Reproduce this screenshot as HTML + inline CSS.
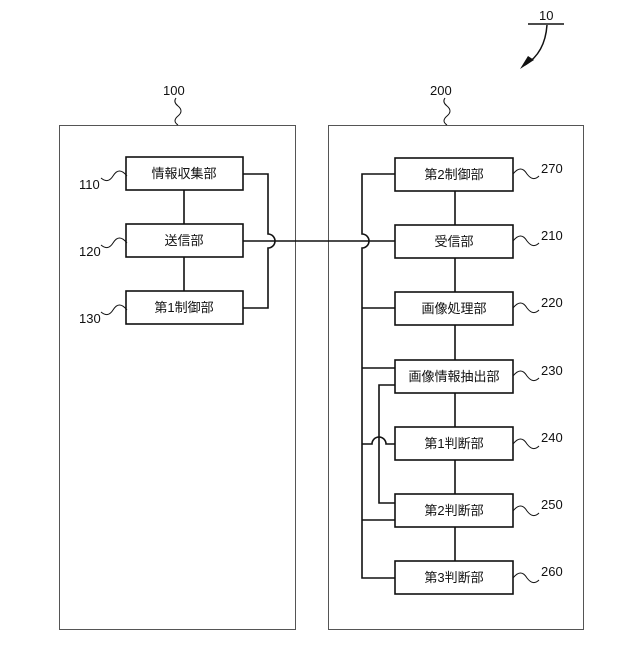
<!DOCTYPE html>
<html><head><meta charset="utf-8"><style>
html,body{margin:0;padding:0;background:#fff;}
text{font-family:"Liberation Sans","Noto Sans CJK JP",sans-serif;font-size:13px;fill:#111;}
</style></head><body>
<svg width="640" height="640" viewBox="0 0 640 640" xmlns="http://www.w3.org/2000/svg">
<g fill="none" stroke="#555" stroke-width="1">
<rect x="59.5" y="125.5" width="236" height="504"/>
<rect x="328.5" y="125.5" width="255" height="504"/>
</g>
<g fill="none" stroke="#111" stroke-width="1">
<path d="M178 125 q-6 -4 0 -9 q6 -5 0 -10 q-5 -4 -2 -8"/>
<path d="M447 125 q-6 -4 0 -9 q6 -5 0 -10 q-5 -4 -2 -8"/>
<!-- left leaders -->
<path d="M127 176 q-8 -10 -14 0 q-5 8 -12 2"/>
<path d="M127 243 q-8 -10 -14 0 q-5 8 -12 2"/>
<path d="M127 310 q-8 -10 -14 0 q-5 8 -12 2"/>
<!-- right leaders -->
<path d="M513 174 q8 -10 14 0 q6 8 12 2"/>
<path d="M513 241 q8 -10 14 0 q6 8 12 2"/>
<path d="M513 308 q8 -10 14 0 q6 8 12 2"/>
<path d="M513 376 q8 -10 14 0 q6 8 12 2"/>
<path d="M513 444 q8 -10 14 0 q6 8 12 2"/>
<path d="M513 511 q8 -10 14 0 q6 8 12 2"/>
<path d="M513 578 q8 -10 14 0 q6 8 12 2"/>
<!-- 10 -->
<line x1="528" y1="24" x2="564" y2="24" stroke-width="1.5"/>
<path d="M547 25 q-2 28 -22 40" stroke-width="1.5"/>
</g>
<polygon points="520,69 534,60 528,56" fill="#111"/>
<g fill="none" stroke="#111" stroke-width="1.6">
<rect x="126" y="157" width="117" height="33"/>
<rect x="126" y="224" width="117" height="33"/>
<rect x="126" y="291" width="117" height="33"/>
<line x1="184" y1="190" x2="184" y2="224"/>
<line x1="184" y1="257" x2="184" y2="291"/>
<path d="M243 174 H268 V234 a7 7 0 0 1 0 14 V308 H243"/>
<path d="M243 241 H362 M362 241 H395"/>
<rect x="395" y="158" width="118" height="33"/>
<rect x="395" y="225" width="118" height="33"/>
<rect x="395" y="292" width="118" height="33"/>
<rect x="395" y="360" width="118" height="33"/>
<rect x="395" y="427" width="118" height="33"/>
<rect x="395" y="494" width="118" height="33"/>
<rect x="395" y="561" width="118" height="33"/>
<line x1="455" y1="191" x2="455" y2="225"/>
<line x1="455" y1="258" x2="455" y2="292"/>
<line x1="455" y1="325" x2="455" y2="360"/>
<line x1="455" y1="393" x2="455" y2="427"/>
<line x1="455" y1="460" x2="455" y2="494"/>
<line x1="455" y1="527" x2="455" y2="561"/>
<path d="M395 174 H362 V234 a7 7 0 0 1 0 14 V578 H395"/>
<path d="M362 308 H395 M362 368 H395 M362 520 H395"/>
<path d="M395 385 H379 V503 H395"/>
<path d="M362 444 H372 a7 7 0 0 1 14 0 H395"/>
</g>
<text x="163" y="95">100</text>
<text x="430" y="95">200</text>
<text x="539" y="20">10</text>
<text x="79" y="189">110</text>
<text x="79" y="256">120</text>
<text x="79" y="323">130</text>
<text x="541" y="173">270</text>
<text x="541" y="240">210</text>
<text x="541" y="307">220</text>
<text x="541" y="375">230</text>
<text x="541" y="442">240</text>
<text x="541" y="509">250</text>
<text x="541" y="576">260</text>
<g text-anchor="middle">
<text x="184" y="178">情報収集部</text>
<text x="184" y="245">送信部</text>
<text x="184" y="312">第1制御部</text>
<text x="454" y="179">第2制御部</text>
<text x="454" y="246">受信部</text>
<text x="454" y="313">画像処理部</text>
<text x="454" y="381">画像情報抽出部</text>
<text x="454" y="448">第1判断部</text>
<text x="454" y="515">第2判断部</text>
<text x="454" y="582">第3判断部</text>
</g>
</svg>
</body></html>
